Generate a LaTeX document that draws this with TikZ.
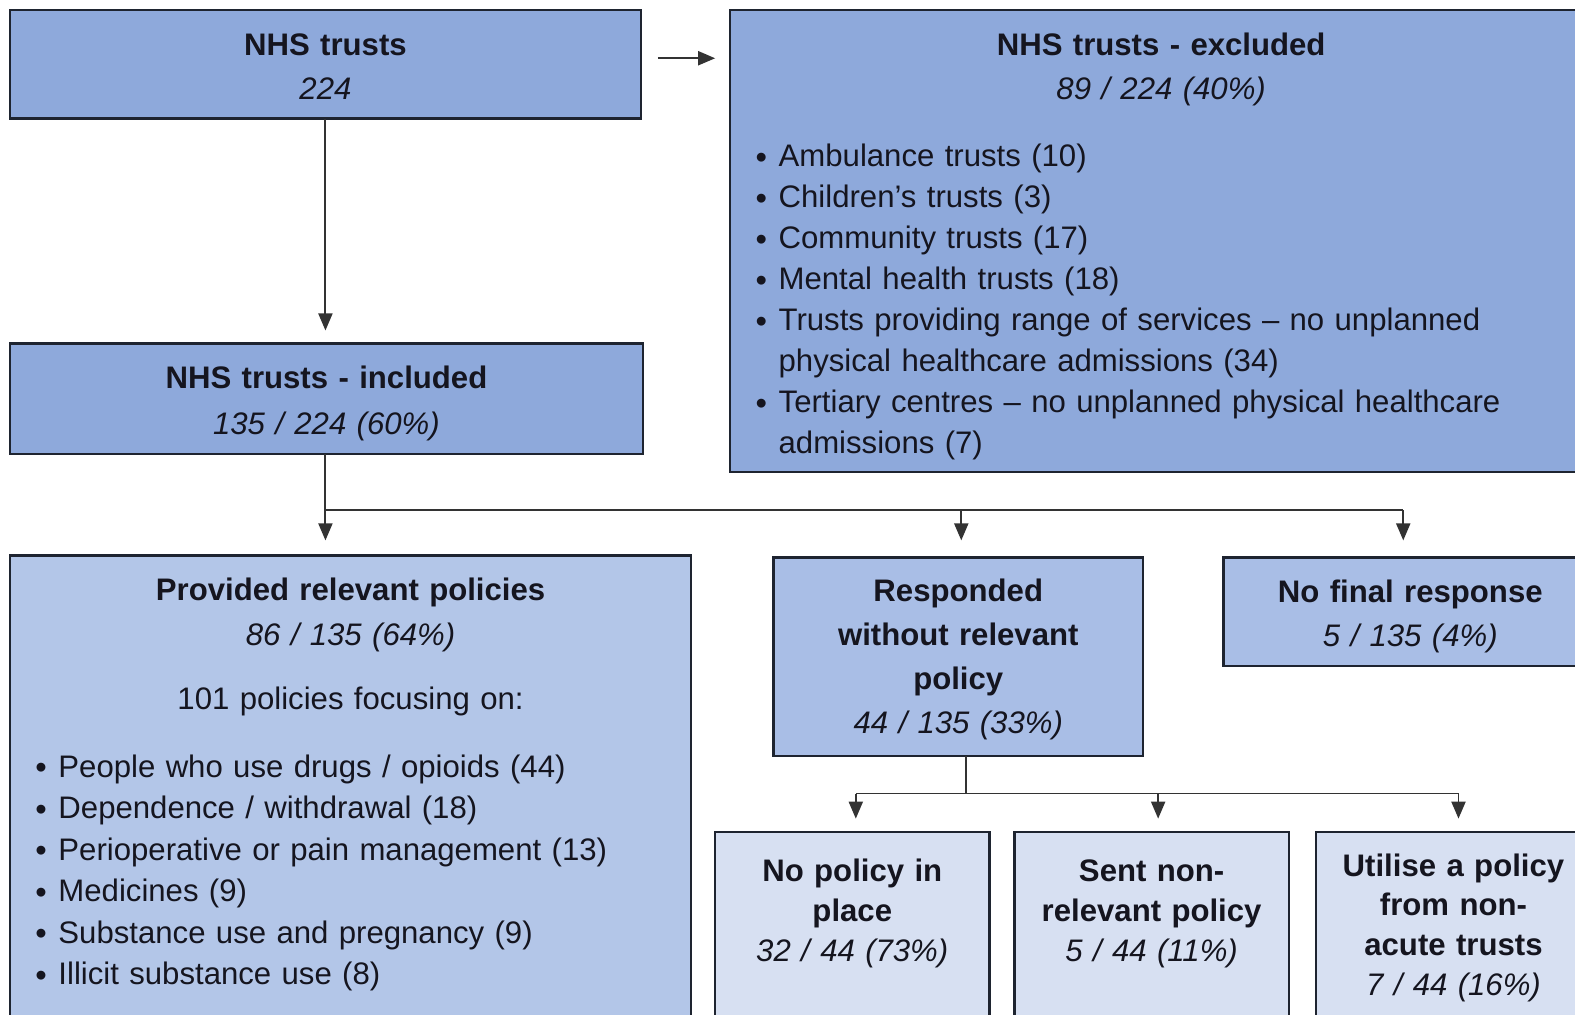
\documentclass[tikz,border=0pt]{standalone}
\usepackage{fontspec}
\setmainfont{Liberation Sans}
\usetikzlibrary{arrows.meta,calc}

\definecolor{fillA}{HTML}{8EA9DB}
\definecolor{fillB}{HTML}{A9BEE6}
\definecolor{fillC}{HTML}{B3C6E8}
\definecolor{fillD}{HTML}{D7E0F2}
\definecolor{ink}{HTML}{15151F}
\definecolor{edge}{HTML}{1E2430}
\definecolor{wire}{HTML}{333333}

% strut that fixes the first baseline 30pt below the top of a text block
\newcommand\tstrut{\rule{0pt}{30pt}}
\newcommand\fs[1]{\fontsize{31}{#1}\selectfont}
\newcommand\bl{\makebox[23pt][l]{\raisebox{-1.5pt}{\scalebox{1.05}{\textbullet}}}}
\newcommand\bitem[1]{\par\noindent\hangindent=23pt\hangafter=1\bl#1}

\tikzset{
  box/.style={draw=edge, line width=2.2pt, inner sep=0pt, outer sep=0pt, rectangle},
  hdr/.style={anchor=north, inner sep=0pt, align=center, text=ink, text width=560pt, font=\fs{44}},
  lst/.style={anchor=north west, inner sep=0pt, align=left, text=ink, text width=800pt, font=\fs{41.3}},
  wire/.style={draw=wire, line width=1.9pt},
  arr/.style={draw=wire, line width=1.9pt, -{Triangle[length=17pt,width=14pt]}}
}

\begin{document}
\begin{tikzpicture}[x=1pt,y=-1pt]
\useasboundingbox (0,0) rectangle (1568,1010);
\clip (0,0) rectangle (1568,1010);
\fill[white] (0,0) rectangle (1568,1010);

% boxes
\node[box, fill=fillA, minimum width=628pt, minimum height=108pt] (top) at (324,64) {};
\node[box, fill=fillA, minimum width=858pt, minimum height=460pt] (excl) at (1156,240) {};
\node[box, fill=fillA, minimum width=630pt, minimum height=110pt] (incl) at (325,397) {};
\node[box, fill=fillC, minimum width=678pt, minimum height=472pt] (prov) at (349,789) {};
\node[box, fill=fillB, minimum width=368pt, minimum height=198pt] (resp) at (954,654) {};
\node[box, fill=fillB, minimum width=372pt, minimum height=108pt] (nofin) at (1404,609) {};
\node[box, fill=fillD, minimum width=273pt, minimum height=197pt] (nopol) at (848.5,926.5) {};
\node[box, fill=fillD, minimum width=273pt, minimum height=197pt] (sent) at (1146.5,926.5) {};
\node[box, fill=fillD, minimum width=274pt, minimum height=197pt] (util) at (1447,926.5) {};

% box texts
\node[hdr] (top-h) at ([yshift=-15pt]top.north) {\tstrut\textbf{NHS trusts}\\\textit{224}};
\node[hdr] (excl-h) at ([yshift=-15pt]excl.north) {\tstrut\textbf{NHS trusts - excluded}\\\textit{89 / 224 (40\%)}};
\node[lst, font=\fs{40.8}] (excl-l) at ([xshift=25pt,yshift=-115pt]excl.north west) {%
  \bitem{\tstrut Ambulance trusts (10)}
  \bitem{Children’s trusts (3)}
  \bitem{Community trusts (17)}
  \bitem{Mental health trusts (18)}
  \bitem{Trusts providing range of services – no unplanned\break physical healthcare admissions (34)}
  \bitem{Tertiary centres – no unplanned physical healthcare\break admissions (7)}\par};
\node[hdr, font=\fs{45}] (incl-h) at ([yshift=-15pt]incl.north) {\tstrut\textbf{NHS trusts - included}\\\textit{135 / 224 (60\%)}};
\node[hdr] (prov-h) at ([yshift=-15pt]prov.north) {\tstrut\textbf{Provided relevant policies}\\\textit{86 / 135 (64\%)}\\[20pt]101 policies focusing on:};
\node[lst, font=\fs{41.4}] (prov-l) at ([xshift=25pt,yshift=-179pt]prov.north west) {%
  \bitem{\tstrut People who use drugs / opioids (44)}
  \bitem{Dependence / withdrawal (18)}
  \bitem{Perioperative or pain management (13)}
  \bitem{Medicines (9)}
  \bitem{Substance use and pregnancy (9)}
  \bitem{Illicit substance use (8)}\par};
\node[hdr, font=\fs{43.7}] (resp-h) at ([yshift=-14pt]resp.north) {\tstrut\textbf{Responded}\\\textbf{without relevant}\\\textbf{policy}\\\textit{44 / 135 (33\%)}};
\node[hdr, font=\fs{43}] (nofin-h) at ([yshift=-15pt]nofin.north) {\tstrut\textbf{No final response}\\\textit{5 / 135 (4\%)}};
\node[hdr, font=\fs{40}] (nopol-h) at ([yshift=-19pt]nopol.north) {\tstrut\textbf{No policy in}\\\textbf{place}\\\textit{32 / 44 (73\%)}};
\node[hdr, font=\fs{40}] (sent-h) at ([yshift=-19pt]sent.north) {\tstrut\textbf{Sent non-}\\\textbf{relevant policy}\\\textit{5 / 44 (11\%)}};
\node[hdr, font=\fs{39.6}] (util-h) at ([yshift=-14pt]util.north) {\tstrut\textbf{Utilise a policy}\\\textbf{from non-}\\\textbf{acute trusts}\\\textit{7 / 44 (16\%)}};

% connectors
\draw[arr, shorten <=17pt, shorten >=15pt] ([yshift=6pt]top.east) -- ([yshift=6pt]top.east -| excl.west);
\draw[arr, shorten >=13pt] (top.south) -- (top.south |- incl.north);

\coordinate (j1) at (324,508);
\coordinate (j1m) at (957,508);
\coordinate (j1e) at (1397,508);
\draw[wire] (incl.south -| j1) -- (j1) -- (j1e);
\draw[arr, shorten >=15pt] (j1) -- (j1 |- prov.north);
\draw[arr, shorten >=17pt] (j1m) -- (j1m |- resp.north);
\draw[arr, shorten >=17pt] (j1e) -- (j1e |- nofin.north);

\coordinate (j2) at (962,790);
\coordinate (j2a) at (852,790);
\coordinate (j2m) at (1153,790);
\coordinate (j2b) at (1452,790);
\draw[wire] (j2 |- resp.south) -- (j2);
\draw[wire] (j2a) -- (j2b);
\draw[arr, shorten >=13pt] (j2a) -- (j2a |- nopol.north);
\draw[arr, shorten >=13pt] (j2m) -- (j2m |- sent.north);
\draw[arr, shorten >=13pt] (j2b) -- (j2b |- util.north);
\end{tikzpicture}
\end{document}
